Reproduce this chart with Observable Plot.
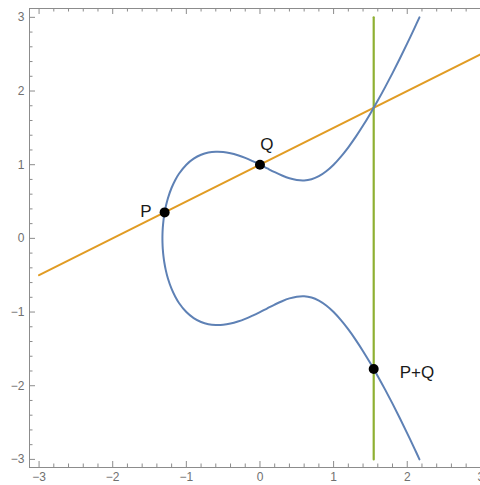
<!DOCTYPE html>
<html>
<head>
<meta charset="utf-8">
<script src="https://cdn.jsdelivr.net/npm/d3@7"></script>
<script src="https://cdn.jsdelivr.net/npm/@observablehq/plot@0.6"></script>
<style>
  html, body { margin: 0; padding: 0; background: #fff; }
  #chart { width: 480px; height: 485px; }
</style>
</head>
<body>
<div id="chart"></div>
<script>
// Curve points (lower branch bottom-right -> root -> upper branch top-right)
const curveX = [2.166, 2.1, 2.0, 1.9, 1.8, 1.7, 1.6, 1.5, 1.4, 1.3, 1.2, 1.1, 1.0, 0.9, 0.8, 0.7, 0.6, 0.5, 0.4, 0.3, 0.2, 0.1, 0, -0.1, -0.2, -0.3, -0.4, -0.5, -0.6, -0.7, -0.8, -0.9, -1.0, -1.1, -1.15, -1.2, -1.25, -1.28, -1.3, -1.31, -1.32, -1.324, -1.3247,
  -1.324, -1.32, -1.31, -1.3, -1.28, -1.25, -1.2, -1.15, -1.1, -1.0, -0.9, -0.8, -0.7, -0.6, -0.5, -0.4, -0.3, -0.2, -0.1, 0, 0.1, 0.2, 0.3, 0.4, 0.5, 0.6, 0.7, 0.8, 0.9, 1.0, 1.1, 1.2, 1.3, 1.4, 1.5, 1.6, 1.7, 1.8, 1.9, 2.0, 2.1, 2.166];
const curveY = [-3.0, -2.857, -2.646, -2.441, -2.243, -2.053, -1.870, -1.696, -1.531, -1.377, -1.236, -1.110, -1.0, -0.911, -0.844, -0.802, -0.785, -0.791, -0.815, -0.853, -0.899, -0.949, -1.0, -1.048, -1.092, -1.128, -1.156, -1.173, -1.176, -1.165, -1.135, -1.082, -1.0, -0.877, -0.793, -0.687, -0.545, -0.428, -0.321, -0.249, -0.142, -0.055, 0,
  0.055, 0.142, 0.249, 0.321, 0.428, 0.545, 0.687, 0.793, 0.877, 1.0, 1.082, 1.135, 1.165, 1.176, 1.173, 1.156, 1.128, 1.092, 1.048, 1.0, 0.949, 0.899, 0.853, 0.815, 0.791, 0.785, 0.802, 0.844, 0.911, 1.0, 1.110, 1.236, 1.377, 1.531, 1.696, 1.870, 2.053, 2.243, 2.441, 2.646, 2.857, 3.0];

// Secant line through P and Q
const lineX = [-3, 3];
const lineY = [-0.5, 2.5];

// Vertical line through the third intersection
const vertX = [1.5447, 1.5447];
const vertY = [-3, 3];

// Labelled points
const pointNames = ["P", "Q", "P+Q"];
const pointX = [-1.2947, 0, 1.5447];
const pointY = [0.3526, 1, -1.7724];

// Axis ticks
const majorTicks = [-3, -2, -1, 0, 1, 2, 3];

const curve = curveX.map((x, i) => ({x, y: curveY[i]}));
const secant = lineX.map((x, i) => ({x, y: lineY[i]}));
const vertical = vertX.map((x, i) => ({x, y: vertY[i]}));
const points = pointNames.map((name, i) => ({name, x: pointX[i], y: pointY[i]}));
const minorTicks = d3.range(-3, 3.01, 0.2).map(v => Math.round(v * 10) / 10).filter(v => !Number.isInteger(v));

const W = 480, H = 485, mL = 29, mR = 0, mT = 8, mB = 18;
const iw = W - mL - mR, ih = H - mT - mB;
const xDom = [-3.13, 2.995], yDom = [-3.11, 3.12];
const fmt = d => d < 0 ? "\u2212" + (-d) : String(d);
const axisCol = "#8c8c8c";
const labelCol = "#707070";
const font = "'Liberation Sans', Arial, sans-serif";

const labelOffsets = {"P": {dx: -13, dy: -1, anchor: "end"}, "Q": {dx: 7, dy: -20, anchor: "middle"}, "P+Q": {dx: 26, dy: 4, anchor: "start"}};

const chart = Plot.plot({
  width: W, height: H,
  marginLeft: mL, marginRight: mR, marginTop: mT, marginBottom: mB,
  style: {fontFamily: font, background: "#fff"},
  x: {domain: xDom, axis: null},
  y: {domain: yDom, axis: null},
  marks: [
    // frame lines (left, top, bottom)
    Plot.ruleX([xDom[0]], {stroke: axisCol, strokeWidth: 1}),
    Plot.ruleY([yDom[1]], {stroke: axisCol, strokeWidth: 1}),
    Plot.ruleY([yDom[0]], {stroke: axisCol, strokeWidth: 1}),
    // bottom ticks
    Plot.ruleX(majorTicks, {x: d => d, insetTop: ih - 6, stroke: axisCol}),
    Plot.ruleX(minorTicks, {x: d => d, insetTop: ih - 3.5, stroke: axisCol}),
    // top ticks
    Plot.ruleX(majorTicks, {x: d => d, insetBottom: ih - 6, stroke: axisCol}),
    Plot.ruleX(minorTicks, {x: d => d, insetBottom: ih - 3.5, stroke: axisCol}),
    // left ticks
    Plot.ruleY(majorTicks, {y: d => d, insetRight: iw - 6, stroke: axisCol}),
    Plot.ruleY(minorTicks, {y: d => d, insetRight: iw - 3.5, stroke: axisCol}),
    // tick labels
    Plot.text(majorTicks, {x: d => d, frameAnchor: "bottom", dy: 13, text: fmt, fill: labelCol, fontSize: 12}),
    Plot.text(majorTicks, {y: d => d, frameAnchor: "left", dx: -5, textAnchor: "end", text: fmt, fill: labelCol, fontSize: 12}),
    // data
    Plot.line(secant, {x: "x", y: "y", stroke: "#E19C24", strokeWidth: 2}),
    Plot.line(vertical, {x: "x", y: "y", stroke: "#8FB032", strokeWidth: 2.2}),
    Plot.line(curve, {x: "x", y: "y", stroke: "#5E81B5", strokeWidth: 2, curve: "catmull-rom"}),
    Plot.dot(points, {x: "x", y: "y", r: 5, fill: "black", stroke: null}),
    ...points.map(p => Plot.text([p], {x: "x", y: "y", text: "name", dx: labelOffsets[p.name].dx, dy: labelOffsets[p.name].dy, textAnchor: labelOffsets[p.name].anchor, fontSize: 17, fill: "#1a1a1a"}))
  ]
});
document.getElementById("chart").appendChild(chart);
</script>
</body>
</html>
